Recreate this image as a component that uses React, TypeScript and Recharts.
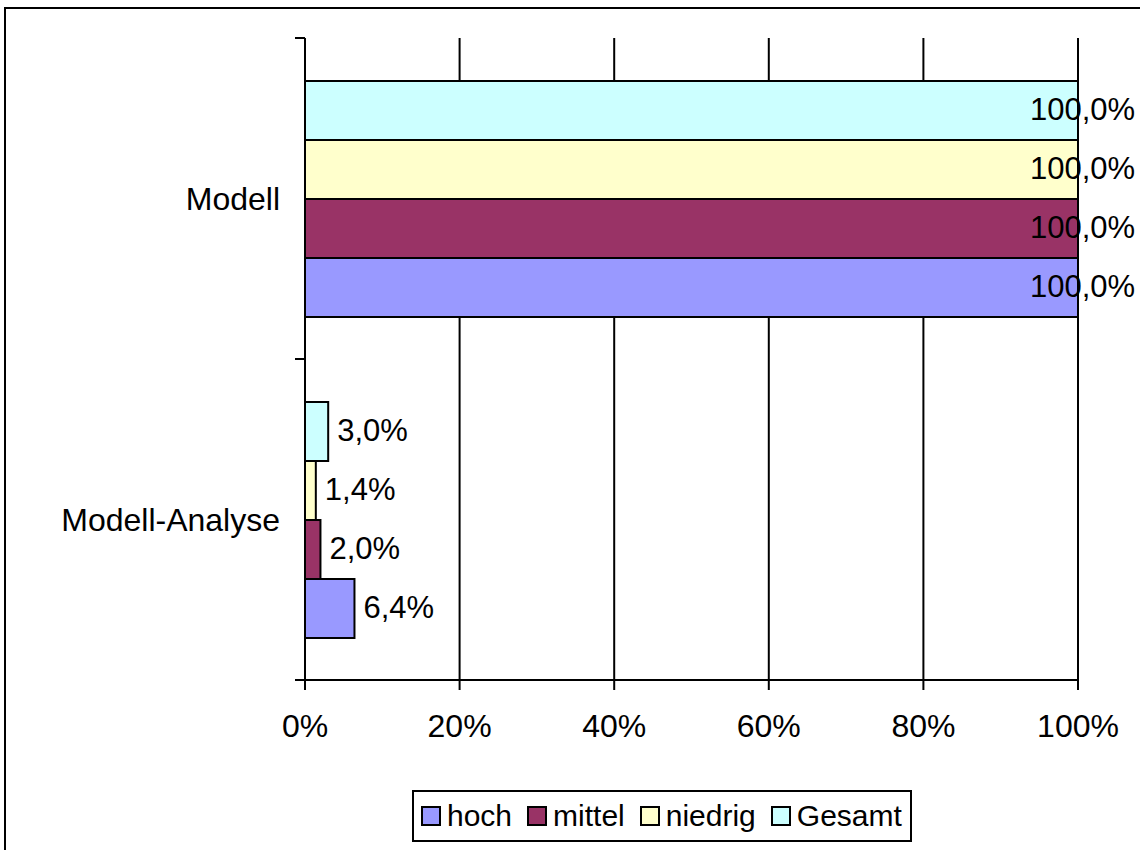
import React from 'react';
import {
    BarChart,
    Bar,
    XAxis,
    YAxis,
    CartesianGrid,
    Legend,
    LabelList,
} from 'recharts';

// categories top to bottom
const categories = ['Modell', 'Modell-Analyse'];
const hoch = [100.0, 6.4];
const mittel = [100.0, 2.0];
const niedrig = [100.0, 1.4];
const gesamt = [100.0, 3.0];
const xTicks = [0, 20, 40, 60, 80, 100];

const series = [
    { key: 'hoch', name: 'hoch', color: '#9999FF' },
    { key: 'mittel', name: 'mittel', color: '#993366' },
    { key: 'niedrig', name: 'niedrig', color: '#FFFFCC' },
    { key: 'Gesamt', name: 'Gesamt', color: '#CCFFFF' },
];

const data = categories.map((name, i) => ({
    name,
    hoch: hoch[i],
    mittel: mittel[i],
    niedrig: niedrig[i],
    Gesamt: gesamt[i],
}));

const FONT = 'Liberation Sans, Arial, sans-serif';

const fmt = (v: number) => v.toFixed(1).replace('.', ',') + '%';

function CategoryTick(props: any) {
    const { x, y, payload, index, visibleTicksCount } = props;
    const half = payload && payload.offset ? payload.offset : 160.5;
    const axisX = x + 25;
    const isLast = index === (visibleTicksCount ?? 2) - 1;
    return (
        <g>
            <line x1={axisX - 10} x2={axisX} y1={y - half} y2={y - half} stroke="#000" strokeWidth={2} />
            {isLast && (
                <line x1={axisX - 10} x2={axisX} y1={y + half} y2={y + half} stroke="#000" strokeWidth={2} />
            )}
            <text x={x} y={y} textAnchor="end" dominantBaseline="central" fontSize={32} fontFamily={FONT} fill="#000">
                {payload.value}
            </text>
        </g>
    );
}

function ValueLabel(props: any) {
    const { x, y, width, height, value } = props;
    const tx = Math.min(x + width + 9, 1030);
    return (
        <text x={tx} y={y + height / 2 - 1} dominantBaseline="central" fontSize={31} fontFamily={FONT} fill="#000">
            {fmt(value)}
        </text>
    );
}

function LegendBox() {
    return (
        <div
            style={{
                display: 'flex',
                alignItems: 'center',
                border: '2px solid #000',
                boxSizing: 'border-box',
                height: 52,
                width: 500,
                padding: '0 0 0 7px',
                fontFamily: FONT,
                fontSize: 30,
                background: '#fff',
                whiteSpace: 'nowrap',
            }}
        >
            {series.map((s) => (
                <div key={s.key} style={{ display: 'flex', alignItems: 'center', marginRight: 15 }}>
                    <span
                        style={{
                            display: 'inline-block',
                            width: 20,
                            height: 20,
                            boxSizing: 'border-box',
                            border: '2px solid #000',
                            background: s.color,
                            marginRight: 6,
                        }}
                    />
                    <span>{s.name}</span>
                </div>
            ))}
        </div>
    );
}

export default function App() {
    // bars are listed top-to-bottom within each band
    const drawOrder = [...series].reverse();
    return (
        <div style={{ position: 'fixed', left: 0, top: 0, width: 1140, height: 850, overflow: 'hidden', background: '#fff' }}>
            <div
                style={{
                    position: 'absolute',
                    left: 4,
                    top: 7,
                    width: 1200,
                    height: 900,
                    border: '2px solid #000',
                }}
            />
            <div style={{ position: 'absolute', left: 0, top: 0 }}>
                <BarChart
                    width={1140}
                    height={850}
                    data={data}
                    layout="vertical"
                    margin={{ top: 38, right: 62, bottom: 8, left: 0 }}
                    barCategoryGap="13.4%"
                    barGap={0}
                >
                    <CartesianGrid vertical horizontal={false} stroke="#000" strokeWidth={2} />
                    <XAxis
                        type="number"
                        domain={[0, 100]}
                        ticks={xTicks}
                        tickFormatter={(v: number) => `${v}%`}
                        axisLine={{ stroke: '#000', strokeWidth: 2 }}
                        tickLine={{ stroke: '#000', strokeWidth: 2 }}
                        tickSize={10}
                        tickMargin={24}
                        height={110}
                        tick={{ fill: '#000', fontSize: 32, fontFamily: FONT }}
                        interval={0}
                    />
                    <XAxis
                        xAxisId="top"
                        type="number"
                        orientation="top"
                        domain={[0, 100]}
                        tick={false}
                        tickLine={false}
                        height={0}
                        axisLine={{ stroke: '#000', strokeWidth: 2 }}
                    />
                    <YAxis
                        type="category"
                        dataKey="name"
                        width={305}
                        axisLine={{ stroke: '#000', strokeWidth: 2 }}
                        tickLine={false}
                        tickSize={10}
                        tickMargin={15}
                        tick={<CategoryTick />}
                        interval={0}
                    />
                    <Legend
                        verticalAlign="bottom"
                        content={<LegendBox />}
                        wrapperStyle={{ left: 412, width: 500 }}
                    />
                    {drawOrder.map((s) => (
                        <Bar
                            key={s.key}
                            dataKey={s.key}
                            name={s.name}
                            fill={s.color}
                            stroke="#000"
                            strokeWidth={2}
                            isAnimationActive={false}
                        >
                            <LabelList dataKey={s.key} content={<ValueLabel />} />
                        </Bar>
                    ))}
                </BarChart>
            </div>
        </div>
    );
}
